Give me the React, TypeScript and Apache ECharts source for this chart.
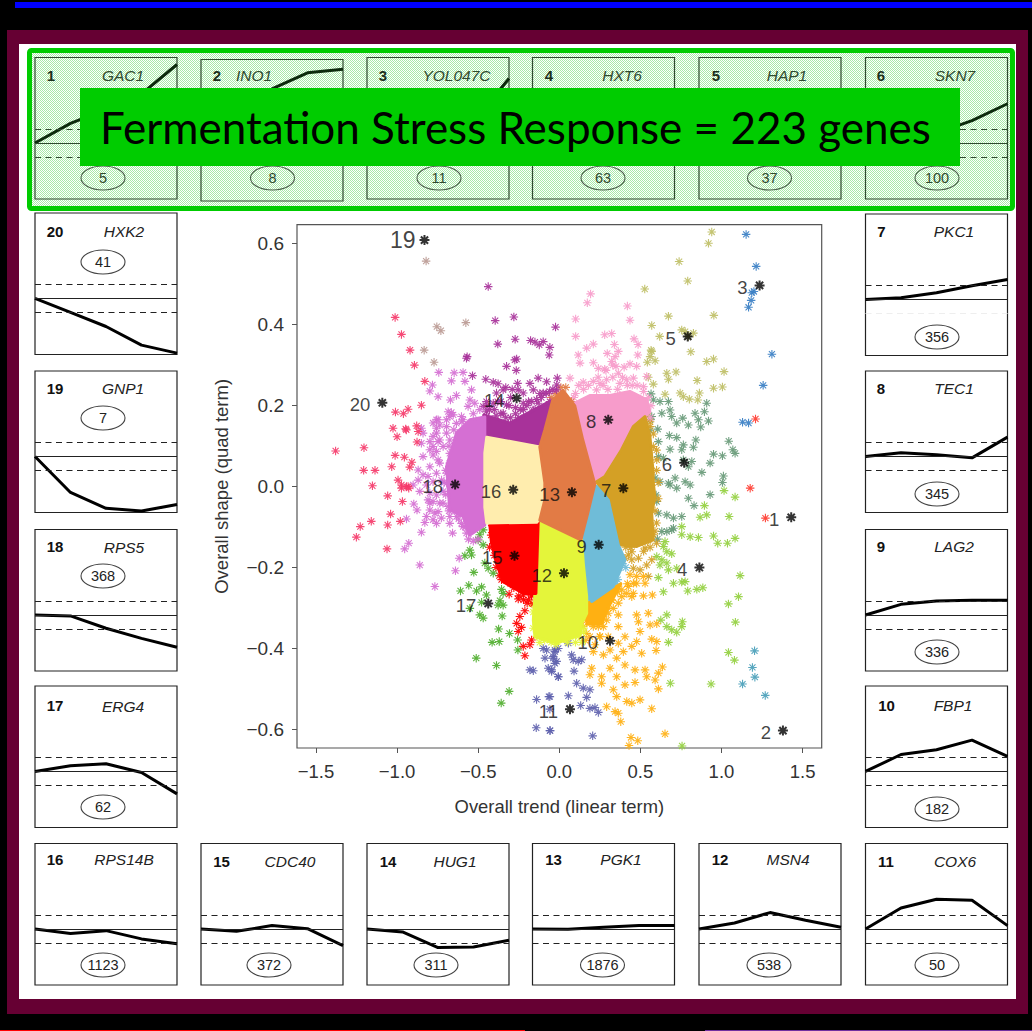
import React, { useEffect, useRef } from "react";
import * as echarts from "echarts";

const xTicks = [-1.5, -1, -0.5, 0, 0.5, 1, 1.5];
const yTicks = [-0.6, -0.4, -0.2, 0, 0.2, 0.4, 0.6];

const geneNames = ["GAC1","INO1","YOL047C","HXT6","HAP1","SKN7","PKC1","TEC1","LAG2","FBP1","COX6","MSN4","PGK1","HUG1","CDC40","RPS14B","ERG4","RPS5","GNP1","HXK2"];
const geneCounts = [5,8,11,63,37,100,356,345,336,182,50,538,1876,311,372,1123,62,368,7,41];

const profiles = [
  [0,1.4,2.4,3.5,5.6],[0,2.2,4.0,5.15,5.4],[0,0.4,0.8,1.5,4.6],[0,1.5,2.5,3,3.5],[0,0.3,0.8,1.8,3.2],
  [0,0.3,0.7,1.6,2.8],[0,0.12,0.48,0.98,1.43],[0,0.26,0.12,-0.1,1.38],[0,0.76,1.0,1.05,1.05],[0,1.21,1.55,2.24,1.07],
  [0,1.5,2.12,2.05,0.24],[0,0.43,1.17,0.62,0.12],[0,-0.02,0.12,0.24,0.24],[0,-0.21,-1.33,-1.29,-0.81],[0,-0.17,0.24,0.02,-1.19],
  [0,-0.33,-0.12,-0.71,-1.05],[0,0.4,0.55,-0.07,-1.6],[0,-0.07,-0.95,-1.67,-2.3],[0,-2.57,-3.7,-3.9,-3.43],[0,-1.0,-2.0,-3.33,-3.9],
];

const panelBoxes = [
  [35,57.5],[201,59.5],[367,57.5],[532.5,57.5],[699,57.5],[865.5,57.5],
  [865.5,214],[865.5,371],[865.5,529.5],[865.5,686],
  [865.5,843.5],[699,843.5],[532.5,843.5],[367,843.5],[201,843.5],[35,843.5],
  [35,686],[35,529.5],[35,371],[35,213],
];
const numberSpots = [
  [51,75],[217,75],[383,75],[549,75],[716,75],[881,75],[881.5,231],[881,388],[881,546],[886.5,705],
  [886,861],[720,859],[553.5,859],[388,861],[221.5,861],[55,859],[55,705],[55,546],[55,388],[55,231],
];
const geneSpots = [
  [123,75],[254,75],[456.5,75],[622,75],[787,75],[955,75],[954,231],[954,388],[954,546],[953,705],
  [955,861],[788,859],[621,859],[455,861],[290,861],[124,859],[123,706],[124,547],[123,388],[124,231],
];
const ovalSpots = [
  [103,178],[272.5,178],[439,178],[603,178],[769.5,178],[937,178],[937,337],[937,494],[937,652],[937,809],
  [937,965],[769,965],[602.5,965],[436,965],[269,965],[103,965],[103,807],[103,576],[103,418],[103,262],
];

const colors = ["#ff3b30","#4a9fba","#3a7fc4","#94d040","#bfbf66","#689a78","#d4a025","#f79ccb","#6fbcd8","#ffb012","#5f62ae","#e4f53a","#e27b45","#a8329a","#ff0000","#ffedae","#4fae2e","#d56fd3","#bb9a94","#f53a6a"];

const cluster1 = [[1.21,.167],[1.177,-.004],[1.271,-.078]];
const cluster2 = [[1.204,-.406],[1.191,-.447],[1.206,-.471],[1.13,-.488],[1.27,-.516]];
const cluster3 = [[1.152,.623],[1.214,.544],[1.187,.479],[1.2,.482],[1.183,.46],[1.167,.443],[1.311,.327],[1.257,.25],[1.13,.159],[1.167,.157]];
const cluster4 = [[1.016,-.01],[1.084,-.026],[.895,-.047],[1.047,-.074],[.909,-.07],[.868,-.076],[.755,-.099],[.755,-.119],[.807,-.124],[.858,-.126],[.951,-.122],[.977,-.14],[1.037,-.14],[1.084,-.128],[.652,-.136],[.642,-.148],[.663,-.161],[.693,-.166],[.601,-.173],[.632,-.181],[.663,-.189],[.621,-.194],[.673,-.206],[.724,-.202],[.611,-.225],[1.115,-.22],[.704,-.239],[.755,-.236],[.776,-.235],[.792,-.258],[.848,-.254],[.885,-.25],[.642,-.26],[1.105,-.272],[1.043,-.29],[.626,-.33],[.663,-.317],[.759,-.334],[.755,-.346],[.663,-.346],[.724,-.36],[.693,-.354],[1.086,-.335],[.673,-.385],[1.043,-.41],[1.08,-.429],[.685,-.486],[.936,-.488],[.757,-.641]];
const cluster5 = [[.94,.629],[.92,.601],[.739,.556],[.792,.508],[.527,.488],[.673,.421],[.953,.423],[.57,.398],[.619,.371],[.755,.387],[.827,.379],[.776,.383],[.796,.371],[.811,.333],[.57,.334],[.56,.321],[.591,.311],[.543,.307],[.909,.309],[.951,.315],[.72,.283],[.663,.28],[.673,.265],[1.016,.284],[.85,.262],[.549,.27],[.58,.253],[.951,.243],[1.006,.246],[.652,.228],[.745,.231],[.765,.222],[.802,.216],[.864,.231],[.854,.214],[.566,.337]];
const cluster6 = [[.566,.229],[.58,.214],[.621,.21],[.673,.21],[.909,.206],[.632,.181],[.683,.189],[.693,.173],[.56,.165],[.57,.173],[.724,.157],[.761,.169],[.796,.152],[.837,.181],[.895,.185],[.858,.165],[.92,.162],[.872,.147],[.56,.138],[.607,.142],[.679,.126],[.724,.121],[.611,.111],[.765,.103],[.683,.092],[.842,.115],[.827,.097],[1.045,.112],[1.07,.091],[1.084,.082],[.951,.08],[1.006,.076],[.93,.058],[.755,.091],[.765,.066],[.796,.049],[.611,.074],[.642,.07],[.817,.062],[.879,.035],[1.012,.026],[1.006,.01],[.591,.021],[.621,.012],[.673,.008],[.714,.021],[.776,.012],[.807,.004],[.683,.004],[.724,-.004],[.93,-.02],[.597,-.021],[.601,-.037],[.611,-.066],[.663,-.07],[.704,-.078],[.755,-.074],[.796,-.029],[.831,-.047],[.632,-.111],[.663,-.111],[.693,-.107],[.704,-.103],[.605,-.13]];
const cluster7 = [[.447,-.161],[.529,-.152],[.405,-.177],[.447,-.181],[.488,-.177],[.57,-.181],[.539,-.194],[.498,-.206],[.549,-.222],[.457,-.202],[.426,-.169],[.549,-.132],[.58,-.119],[.529,.171],[.467,.144],[.56,.148],[.58,.099],[.601,.066],[.58,.13],[.6,.09],[.6,.04],[.61,.01],[.61,-.03],[.59,-.06],[.6,-.09],[.59,-.11],[.6,-.14],[.56,-.15],[.52,-.16],[.48,-.14],[.44,-.15],[.41,-.15],[.54,.18],[.52,.19],[.49,.15],[.56,.16]];
const cluster8 = [[.193,.476],[.173,.454],[.42,.446],[.436,.411],[.101,.414],[.101,.371],[.28,.375],[.323,.378],[.461,.365],[.486,.351],[.21,.352],[.169,.342],[.34,.351],[.364,.334],[.344,.321],[.296,.329],[.117,.325],[.128,.305],[.484,.325],[.21,.306],[.323,.309],[.436,.303],[.477,.297],[.539,.272],[.35,.297],[.288,.287],[.241,.292],[.364,.28],[.066,.268],[.148,.258],[.251,.255],[.292,.264],[.374,.255],[.416,.264],[.457,.268],[.519,.247],[.23,.239],[.1,.23],[.12,.25],[.15,.24],[.18,.25],[.21,.26],[.24,.27],[.27,.25],[.3,.24],[.33,.27],[.36,.24],[.39,.27],[.42,.25],[.45,.25],[.48,.25],[.52,.235],[.55,.22],[.565,.2],[.56,.17],[.51,.165],[.47,.17],[.1,.19],[.09,.22],[.28,.29],[.33,.3],[.4,.295]];
const cluster9 = [[.26,-.01],[.39,-.19],[.35,-.24],[.19,-.28],[.16,-.24],[.15,-.16],[.19,-.1],[.41,-.2],[.36,-.23],[.37,-.2],[.28,-.26],[.15,-.22],[.17,-.28]];
const cluster10 = [[.436,-.218],[.477,-.222],[.529,-.239],[.457,-.239],[.385,-.255],[.333,-.251],[.292,-.272],[.251,-.276],[.21,-.288],[.179,-.309],[.22,-.301],[.272,-.297],[.333,-.301],[.364,-.288],[.447,-.272],[.519,-.27],[.574,-.268],[.364,-.317],[.364,-.346],[.477,-.317],[.549,-.313],[.488,-.334],[.498,-.358],[.56,-.342],[.601,-.339],[.405,-.371],[.364,-.387],[.313,-.404],[.22,-.391],[.21,-.408],[.272,-.416],[.354,-.424],[.395,-.408],[.447,-.395],[.477,-.383],[.57,-.377],[.601,-.383],[.597,-.405],[.508,-.412],[.405,-.441],[.2,-.449],[.189,-.465],[.261,-.47],[.261,-.486],[.313,-.449],[.354,-.47],[.333,-.502],[.405,-.49],[.467,-.484],[.467,-.453],[.529,-.453],[.539,-.47],[.591,-.478],[.611,-.461],[.636,-.446],[.611,-.5],[.354,-.519],[.416,-.531],[.447,-.535],[.498,-.527],[.292,-.544],[.344,-.556],[.364,-.56],[.57,-.549],[.379,-.581],[.652,-.611],[.442,-.62],[.484,-.628],[.43,-.64],[.148,-.346],[.169,-.363],[.241,-.346],[.292,-.33],[.19,-.33],[.22,-.33],[.26,-.32],[.3,-.3],[.32,-.28],[.36,-.26],[.42,-.24],[.17,-.32],[.16,-.38],[.25,-.37],[.2,-.297],[.241,-.288],[.292,-.292],[.2,-.321],[.251,-.317],[.302,-.313],[.169,-.33],[.21,-.346],[.272,-.346],[.323,-.28],[.385,-.272],[.426,-.247],[.477,-.239],[.519,-.222],[.457,-.264],[.416,-.264],[.158,-.313],[.189,-.371],[.251,-.371],[.302,-.371]];
const cluster11 = [[-.099,-.4],[-.078,-.404],[-.027,-.404],[-.088,-.424],[-.037,-.42],[-.016,-.432],[-.068,-.449],[-.047,-.457],[-.006,-.47],[-.181,-.453],[-.16,-.455],[-.14,-.526],[-.064,-.519],[-.058,-.55],[-.142,-.596],[-.056,-.603],[.056,-.387],[-.006,-.4],[-.027,-.408],[-.037,-.424],[-.027,-.437],[.076,-.416],[.086,-.428],[.138,-.428],[.117,-.432],[-.047,-.453],[-.006,-.47],[.091,-.456],[.107,-.486],[.148,-.498],[.189,-.502],[.056,-.517],[.169,-.521],[-.058,-.519],[.132,-.541],[.189,-.548],[.22,-.546],[.241,-.558],[-.058,-.603],[.206,-.616]];
const cluster12 = [[-.16,-.31],[-.16,-.35],[-.14,-.37],[-.02,-.39],[.05,-.385],[.12,-.37],[.16,-.32],[-.12,-.385],[.17,-.29],[.15,-.35],[.1,-.385],[-.17,-.29],[-.16,-.26],[.18,-.3],[.17,-.25],[.05,-.375],[-.05,-.385],[-.09,-.38],[.15,-.36],[.14,-.385],[-.14,-.34]];
const cluster13 = [[.04,.245],[.075,.21],[-.05,.2],[-.02,.23],[.1,.19],[.14,.13],[.18,.07],[.2,.03],[-.05,.22],[.01,.245]];
const cluster14 = [[-.438,.494],[-.395,.41],[-.28,.419],[-.023,.394],[-.272,.364],[-.379,.352],[-.177,.361],[-.15,.357],[-.123,.35],[-.099,.358],[-.058,.344],[-.062,.325],[-.568,.321],[-.572,.317],[-.263,.315],[-.274,.313],[-.325,.297],[-.265,.287],[-.535,.274],[-.453,.265],[-.407,.258],[-.377,.254],[-.346,.239],[-.257,.255],[-.253,.239],[-.181,.255],[-.13,.268],[-.078,.259],[-.016,.251],[-.16,.239],[-.222,.231],[-.099,.231],[-.387,.231],[-.449,.21],[-.469,.198],[-.407,.206],[-.325,.202],[-.222,.206],[-.13,.206],[-.058,.21],[-.078,.198],[-.16,.189],[-.346,.181],[-.449,.173],[-.012,.268],[-.016,.239],[-.4,.19],[-.36,.21],[-.3,.22],[-.27,.18],[-.24,.19],[-.19,.21],[-.12,.23],[-.1,.19],[-.29,.24],[-.33,.245],[-.45,.185],[-.43,.19],[-.39,.175],[-.36,.18],[-.33,.17],[-.3,.17],[-.27,.195],[-.25,.17],[-.22,.19],[-.2,.2],[-.17,.21],[-.14,.215],[-.11,.22],[-.08,.23],[-.06,.235],[-.04,.24],[-.31,.2],[-.42,.165],[-.38,.21],[-.44,.2],[-.21,.17],[-.15,.19]];
const cluster15 = [[-.309,-.266],[-.253,-.278],[-.212,-.307],[-.198,-.288],[-.243,-.321],[-.263,-.338],[-.233,-.348],[-.253,-.358],[-.222,-.395],[-.171,-.379],[-.212,-.418],[-.181,-.391],[-.309,-.222],[-.222,-.268],[-.171,-.268],[-.356,-.23],[-.42,-.12],[-.4,-.17],[-.34,-.23],[-.3,-.24],[-.25,-.27],[-.17,-.27],[-.42,-.09],[-.37,-.085],[-.32,-.09],[-.27,-.085],[-.22,-.09],[-.17,-.08],[-.43,-.15],[-.39,-.2],[-.37,-.22],[-.28,-.25],[-.22,-.28],[-.19,-.28],[-.16,-.29],[-.13,-.27],[-.13,-.2],[-.13,-.15]];
const cluster17 = [[-.469,-.107],[-.49,-.119],[-.469,-.144],[-.5,-.132],[-.551,-.157],[-.582,-.171],[-.541,-.169],[-.459,-.189],[-.438,-.202],[-.407,-.214],[-.527,-.212],[-.609,-.258],[-.558,-.244],[-.479,-.248],[-.51,-.258],[-.356,-.254],[-.449,-.268],[-.346,-.264],[-.366,-.282],[-.377,-.293],[-.346,-.293],[-.479,-.286],[-.551,-.301],[-.49,-.317],[-.469,-.325],[-.352,-.32],[-.374,-.352],[-.307,-.363],[-.257,-.379],[-.255,-.404],[-.414,-.385],[-.37,-.383],[-.512,-.424],[-.387,-.442],[-.309,-.506],[-.358,-.535]];
const cluster18 = [[-.743,.282],[-.648,.281],[-.593,.282],[-.665,.261],[-.582,.26],[-.782,.251],[-.798,.236],[-.747,.222],[-.541,.239],[-.634,.225],[-.671,.214],[-.551,.214],[-.665,.183],[-.747,.165],[-.85,.144],[-.84,.132],[-.757,.132],[-.778,.099],[-.85,.107],[-.84,.074],[-.747,.066],[-.87,.041],[-.798,.049],[-.901,.004],[-.675,.173],[-.593,.165],[-.695,.148],[-.737,.115],[-.675,.082],[-.778,.078],[-.897,-.043],[-.877,-.058],[-.809,-.033],[-.767,-.066],[-.829,-.089],[-.85,-.113],[-.757,-.091],[-.675,-.091],[-.658,-.115],[-.942,-.08],[-.928,-.14],[-.953,-.154],[-.86,-.194],[-.64,-.208],[-.767,-.247],[-.617,-.177],[-.86,-.012],[-.798,-.041],[-.737,-.041],[-.634,-.074],[-.685,.185],[-.654,.177],[-.695,.165],[-.757,.165],[-.778,.157],[-.737,.152],[-.757,.144],[-.695,.132],[-.634,.156],[-.603,.173],[-.562,.198],[-.521,.206],[-.778,.124],[-.747,.111],[-.798,.111],[-.716,.099],[-.757,.087],[-.798,.091],[-.675,.115],[-.634,.115],[-.675,.058],[-.695,.033],[-.634,.045],[-.737,.058],[-.809,.025],[-.757,.033],[-.84,.029],[-.87,.016],[-.778,.012],[-.695,.008],[-.819,.004],[-.726,.016],[-.798,-.016],[-.757,-.021],[-.716,-.012],[-.778,-.037],[-.716,-.041],[-.798,-.058],[-.747,-.062],[-.685,-.049],[-.634,-.058],[-.819,-.074],[-.778,-.082],[-.727,-.078],[-.675,-.074],[-.593,-.099],[-.572,-.115],[-.603,-.091],[-.7,.04],[-.71,.01],[-.68,.1],[-.65,.14],[-.6,.16],[-.53,.18],[-.49,.19],[-.7,-.02],[-.68,-.06],[-.62,-.08],[-.58,-.1],[-.56,-.13],[-.53,-.135],[-.5,-.13]];
const cluster19 = [[-.821,.557],[-.755,.395],[-.73,.385],[-.576,.405],[-.833,.337],[-.772,.307]];
const cluster20 = [[-1.012,.418],[-.973,.376],[-.92,.337],[-.893,.3],[-.829,.26],[-.85,.201],[-.932,.191],[-.961,.18],[-1.01,.184],[-1.025,.144],[-.947,.1425],[-.943,.14],[-.879,.15],[-.87,.136],[-1.0,.123],[-.877,.11],[-1.204,.096],[-1.379,.088],[-1.012,.077],[-.955,.0725],[-.909,.06],[-1.206,.04],[-1.136,.04],[-1.033,.049],[-.922,.048],[-.994,.016],[-1.152,.002],[-.932,0],[-.973,.004],[-1.058,-.023],[-.967,-.037],[-.942,0],[-.973,-.004],[-.928,-.004],[-1.04,-.068],[-1.159,-.086],[-1.227,-.099],[-1.058,-.095],[-.98,-.086],[-1.251,-.125],[-1.062,-.154]];
const clusterPoints = [cluster1,cluster2,cluster3,cluster4,cluster5,cluster6,cluster7,cluster8,cluster9,cluster10,cluster11,cluster12,cluster13,cluster14,cluster15,[],cluster17,cluster18,cluster19,cluster20];

const outline14 = [[-.466,.122],[-.466,.177],[-.305,.157],[-.182,.184],[-.04,.214],[-.089,.103]];
const outline18 = [[-.459,.172],[-.459,-.095],[-.551,-.12],[-.593,-.074],[-.675,-.058],[-.695,.049],[-.634,.132],[-.551,.165]];
const outline8 = [[.096,.206],[.188,.225],[.312,.225],[.435,.235],[.538,.215],[.559,.185],[.456,.148],[.384,.091],[.281,.021],[.219,.008],[.168,.082],[.116,.165]];
const outline10 = [[.17,-.29],[.28,-.265],[.38,-.24],[.3,-.3],[.26,-.34],[.17,-.34]];
const outline7 = [[.456,.148],[.528,.173],[.559,.124],[.579,.033],[.58,.008],[.59,-.025],[.57,-.066],[.58,-.132],[.477,-.148],[.364,-.144],[.302,-.033],[.23,.012],[.281,.025],[.384,.091]];
const outline9 = [[.23,0],[.302,-.033],[.364,-.144],[.405,-.181],[.333,-.247],[.2,-.284],[.169,-.264],[.148,-.189],[.138,-.132],[.179,-.066]];
const outline12 = [[-.058,-.095],[.138,-.132],[.148,-.189],[.169,-.272],[.169,-.313],[.138,-.338],[.128,-.367],[-.016,-.387],[-.15,-.371],[-.16,-.33],[-.15,-.264],[-.13,-.084]];
const outline15 = [[-.428,-.095],[-.13,-.086],[-.144,-.264],[-.222,-.264],[-.346,-.235],[-.387,-.19],[-.418,-.14]];
const outline16 = [[-.447,.122],[-.12,.098],[-.089,.058],[-.089,-.065],[-.139,-.088],[-.447,-.09],[-.459,-.051],[-.459,.083]];
const outline13 = [[.022,.238],[.096,.199],[.145,.115],[.219,.006],[.176,-.065],[.133,-.132],[-.059,-.095],[-.12,-.083],[-.089,-.033],[-.089,.009],[-.12,.098],[-.089,.14],[-.04,.214]];
const regionOutlines = [[14,outline14],[18,outline18],[8,outline8],[10,outline10],[7,outline7],[9,outline9],[12,outline12],[15,outline15],[16,outline16],[13,outline13]];

const centerLabels = ["1","2","3","4","5","6","7","8","9","10","11","12","13","14","15","16","17","18","19","20"];
const centers = [[1.43,-.076],[1.379,-.603],[1.235,.497],[.864,-.2],[.792,.371],[.77,.059],[.395,-.004],[.302,.165],[.243,-.144],[.313,-.381],[.066,-.55],[.029,-.214],[.078,-.014],[-.263,.218],[-.276,-.171],[-.284,-.008],[-.438,-.289],[-.642,.005],[-.831,.609],[-1.091,.207]];

const thinStar = "path://M8.7 0H11.3V20H8.7ZM0 8.7H20V11.3H0ZM2 3.8L3.8 2L18 16.2L16.2 18ZM16.2 2L18 3.8L3.8 18L2 16.2Z";
const boldStar = "path://M8 0H12V20H8ZM0 8H20V12H0ZM1.4 4.2L4.2 1.4L18.6 15.8L15.8 18.6ZM15.8 1.4L18.6 4.2L4.2 18.6L1.4 15.8Z";
const sans = "'Liberation Sans', Arial, sans-serif";

function buildOption() {
  const dots = document.createElement("canvas");
  dots.width = 2; dots.height = 2;
  const c = dots.getContext("2d")!;
  c.fillStyle = "#ffffff"; c.fillRect(0, 0, 2, 2);
  c.fillStyle = "#a8eaa8"; c.fillRect(0, 0, 1, 1); c.fillRect(1, 1, 1, 1);

  const grids: any[] = [{ left: 297, top: 224.7, width: 524.7, height: 523.3, show: true, borderColor: "#555", borderWidth: 1.2, backgroundColor: "transparent" }];
  const tickText = (v: number) => String(v === 0 ? "0.0" : v.toFixed(1)).replace("-", "\u2212");
  const xAxes: any[] = [{
    type: "value", gridIndex: 0, min: -1.617, max: 1.618, splitLine: { show: false }, axisLine: { show: false, onZero: false },
    axisTick: { show: true, length: 5, customValues: xTicks, lineStyle: { color: "#555" } },
    axisLabel: { customValues: xTicks, margin: 14, fontSize: 18.5, color: "#333", fontFamily: sans, formatter: tickText },
    name: "Overall trend (linear term)", nameLocation: "middle", nameGap: 49, nameTextStyle: { fontSize: 18.4, color: "#333", fontFamily: sans },
  }];
  const yAxes: any[] = [{
    type: "value", gridIndex: 0, min: -0.646, max: 0.647, splitLine: { show: false }, axisLine: { show: false, onZero: false },
    axisTick: { show: true, length: 5, customValues: yTicks, lineStyle: { color: "#555" } },
    axisLabel: { customValues: yTicks, margin: 13, fontSize: 19, color: "#333", fontFamily: sans, formatter: tickText },
    name: "Overall shape (quad term)", nameLocation: "middle", nameGap: 66, nameTextStyle: { fontSize: 18.5, color: "#333", fontFamily: sans },
  }];
  const series: any[] = [];

  clusterPoints.forEach((pts, i) => {
    if (!pts.length) return;
    series.push({ type: "scatter", xAxisIndex: 0, yAxisIndex: 0, data: pts, symbol: thinStar, symbolSize: 8.5, itemStyle: { color: colors[i], opacity: 0.92 }, silent: true, z: 3 });
  });
  regionOutlines.forEach(([id, outline]: any, k) => {
    series.push({
      type: "custom", xAxisIndex: 0, yAxisIndex: 0, coordinateSystem: "cartesian2d", silent: true, z: 4 + k * 0.01, clip: false,
      data: outline,
      encode: { x: 0, y: 1 },
      renderItem: (params: any, api: any) => {
        if (params.dataIndex !== 0) return null;
        return { type: "polygon", shape: { points: outline.map((p: number[]) => api.coord(p)) }, style: { fill: colors[id - 1], stroke: colors[id - 1], lineWidth: 3, lineJoin: "round" } };
      },
    });
  });
  series.push({
    type: "scatter", xAxisIndex: 0, yAxisIndex: 0, silent: true, z: 6, symbol: boldStar, symbolSize: 10, itemStyle: { color: "#000" },
    data: centers.map((p, i) => ({
      value: p,
      label: {
        show: true, position: "left", distance: i === 18 ? 4 : 7, offset: i === 18 ? [0, 0] : [0, 2], formatter: centerLabels[i], color: "#111",
        fontSize: i === 18 ? 23 : 18.5, fontFamily: sans,
      },
    })),
  });

  const graphic: any[] = [
    { type: "rect", z: -20, shape: { x: 15, y: 2, width: 1017, height: 6 }, style: { fill: "#0000ff" } },
    { type: "rect", z: -20, shape: { x: 7, y: 30, width: 1021, height: 984 }, style: { fill: "#660033" } },
    { type: "rect", z: -19, shape: { x: 19, y: 44, width: 997, height: 955 }, style: { fill: "#ffffff" } },
    { type: "rect", z: -18, shape: { x: 29.5, y: 50.5, width: 983, height: 158, r: 2 }, style: { fill: { image: dots, repeat: "repeat" } as any, stroke: "#00cc00", lineWidth: 5 } },
    { type: "rect", z: -20, shape: { x: 0, y: 1030, width: 525, height: 1 }, style: { fill: "#ff0000" } },
    { type: "rect", z: -20, shape: { x: 705, y: 1030, width: 327, height: 1 }, style: { fill: "#7030a0" } },
  ];

  profiles.forEach((profile, i) => {
    const g = i + 1;
    const [left, top] = panelBoxes[i];
    const faded = i < 6;
    const ink = faded ? "#2f4a2f" : "#222";
    grids.push({ left, top, width: 142, height: 141.5, show: true, borderColor: ink, borderWidth: 1.2, backgroundColor: "transparent" });
    xAxes.push({ type: "value", gridIndex: g, min: 0, max: 4, show: false });
    yAxes.push({ type: "value", gridIndex: g, min: -4, max: 6.1, show: false });
    const lowerDash = i === 6 ? "#eeeeee" : ink;
    series.push({
      type: "line", xAxisIndex: g, yAxisIndex: g, data: profile.map((v, k) => [k, v]), showSymbol: false, symbol: "none", clip: false, silent: true,
      lineStyle: { color: faded ? "#0c2a0c" : "#000", width: 3 },
      markLine: {
        silent: true, symbol: "none", label: { show: false }, animation: false,
        data: [
          { yAxis: 0, lineStyle: { color: ink, width: 1.2, type: "solid" } },
          { yAxis: 1, lineStyle: { color: ink, width: 1.2, type: [6, 4.5] } },
          { yAxis: -1, lineStyle: { color: lowerDash, width: 1.2, type: [6, 4.5] } },
        ],
      },
    });
    graphic.push(
      { type: "text", z: 50, x: numberSpots[i][0], y: numberSpots[i][1], style: { text: String(g), fill: faded ? "#1c301c" : "#111", font: `bold 15px ${sans}`, textAlign: "center", textVerticalAlign: "middle" } },
      { type: "text", z: 50, x: geneSpots[i][0], y: geneSpots[i][1], style: { text: geneNames[i], fill: faded ? "#2f4a2f" : "#222", font: `italic 15.5px ${sans}`, textAlign: "center", textVerticalAlign: "middle" } },
      { type: "ellipse", z: 50, shape: { cx: ovalSpots[i][0], cy: ovalSpots[i][1], rx: 22, ry: 12 }, style: { fill: "none", stroke: faded ? "#4a5f4a" : "#444", lineWidth: 1.1 } },
      { type: "text", z: 50, x: ovalSpots[i][0], y: ovalSpots[i][1], style: { text: String(geneCounts[i]), fill: faded ? "#2f4a2f" : "#222", font: `14.5px ${sans}`, textAlign: "center", textVerticalAlign: "middle" } },
    );
  });

  graphic.push(
    { type: "rect", z: 100, shape: { x: 80, y: 88, width: 880, height: 78 }, style: { fill: "#00cc00" } },
    { type: "text", z: 101, x: 100, y: 127, style: { text: "Fermentation Stress Response = 223 genes", fill: "#000", font: "44px Lato, sans-serif", textAlign: "left", textVerticalAlign: "middle" } },
  );

  return { animation: false, backgroundColor: "#000000", grid: grids, xAxis: xAxes, yAxis: yAxes, series, graphic, tooltip: { show: false } };
}

export default function App() {
  const ref = useRef<HTMLDivElement>(null);
  useEffect(() => {
    const chart = echarts.init(ref.current!, undefined, { renderer: "svg" });
    chart.setOption(buildOption() as any);
    return () => chart.dispose();
  }, []);
  return <div ref={ref} style={{ position: "absolute", left: 0, top: 0, width: 1032, height: 1031 }} />;
}
